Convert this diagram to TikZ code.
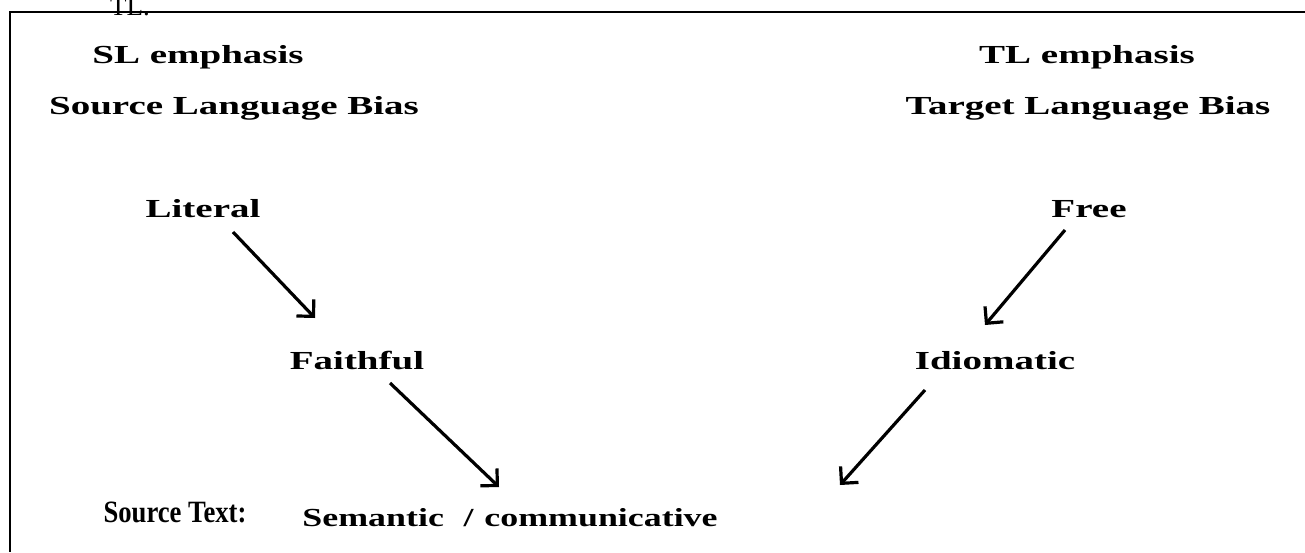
\documentclass[tikz,border=0pt]{standalone}
\usepackage{fontspec}
\setmainfont{Liberation Serif}
\usetikzlibrary{arrows.meta}
\newcommand{\wide}[1]{\scalebox{1.5}[1]{#1}}
\tikzset{
  lbl/.style={anchor=base, inner sep=0pt, font=\fontsize{26}{30}\selectfont\bfseries},
  arr/.style={line width=3.2pt, -{Straight Barb[length=12pt,width=24pt,line width=3.2pt]}},
  frame/.style={line width=2.2pt}
}
\begin{document}
\begin{tikzpicture}[x=1pt,y=-1pt]
\useasboundingbox (0,0) rectangle (1305,552);
\clip (0,0) rectangle (1305,552);
\fill[white] (0,0) rectangle (1305,552);
\node[anchor=base west, inner sep=0pt, font=\fontsize{27}{30}\selectfont] (tl) at (110,15) {TL.};
\draw[frame] (1305,12) -- (10,12) -- (10,552);
\node[lbl] (sl1) at (198,63) {\wide{SL emphasis}};
\node[lbl] (sl2) at (234,114) {\wide{Source Language Bias}};
\node[lbl] (tl1) at (1087,63) {\wide{TL emphasis}};
\node[lbl] (tl2) at (1088,114) {\wide{Target Language Bias}};
\node[lbl] (lit) at (203,217) {\wide{Literal}};
\node[lbl] (free) at (1089,217) {\wide{Free}};
\node[lbl] (fai) at (357,369) {\wide{Faithful}};
\node[lbl] (idi) at (995,369) {\wide{Idiomatic}};
\node[lbl, font=\fontsize{31}{34}\selectfont\bfseries] (st) at (175,522) {\scalebox{0.86}[1]{Source Text:}};
\node[lbl] (sem) at (510,526) {\scalebox{1.38}[1]{Semantic\hspace{0.55em}/\hspace{0.3em}communicative}};
\coordinate (a1s) at (233,232);
\coordinate (a1e) at (315,318);
\coordinate (a2s) at (390,383);
\coordinate (a2e) at (499,487);
\coordinate (a3s) at (1065,230);
\coordinate (a3e) at (985,325);
\coordinate (a4s) at (925,390);
\coordinate (a4e) at (840,485);
\draw[arr] (a1s) -- (a1e);
\draw[arr] (a2s) -- (a2e);
\draw[arr] (a3s) -- (a3e);
\draw[arr] (a4s) -- (a4e);
\end{tikzpicture}
\end{document}
